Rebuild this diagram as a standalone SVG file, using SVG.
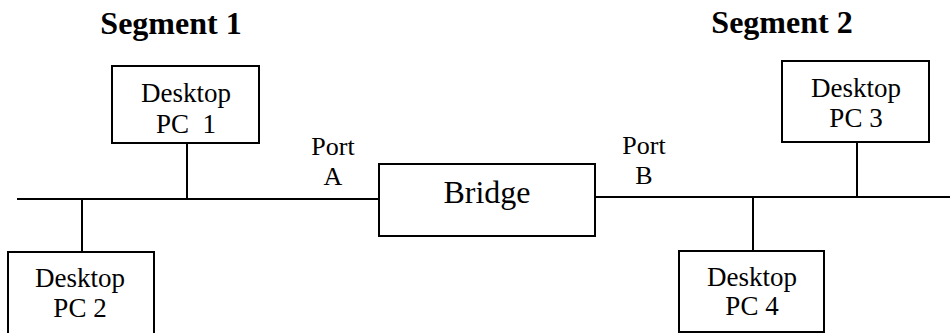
<svg xmlns="http://www.w3.org/2000/svg" width="950" height="333" viewBox="0 0 950 333">
<style>
.box{fill:#fff;stroke:#000;stroke-width:2}
.ln{stroke:#000;stroke-width:2;fill:none}
.t{font-family:"Liberation Serif","Times New Roman",serif;font-size:27px;text-anchor:middle;fill:#000}
.p{font-size:26px}
.h{font-family:"Liberation Serif","Times New Roman",serif;font-size:32px;font-weight:bold;text-anchor:middle;fill:#000}
</style>
<rect width="950" height="333" fill="#fff"/>
<g id="connectors">
<line class="ln" x1="17" y1="199" x2="379" y2="199"/>
<line class="ln" x1="595" y1="197" x2="950" y2="197"/>
<line class="ln" x1="187" y1="143" x2="187" y2="199"/>
<line class="ln" x1="82" y1="199" x2="82" y2="252"/>
<line class="ln" x1="857" y1="142" x2="857" y2="197"/>
<line class="ln" x1="753" y1="197" x2="753" y2="251"/>
</g>
<g id="labels">
<text class="h" x="171" y="34">Segment 1</text>
<text class="h" x="782" y="33">Segment 2</text>
<text class="t p" x="333" y="155">Port</text>
<text class="t p" x="333" y="185">A</text>
<text class="t p" x="644" y="154">Port</text>
<text class="t p" x="644" y="184">B</text>
</g>
<g id="pc1">
<rect class="box" x="112" y="66" width="147" height="77"/>
<text class="t" x="186" y="102">Desktop</text>
<text class="t" x="186" y="133" xml:space="preserve">PC  1</text>
</g>
<g id="pc2">
<rect class="box" x="8" y="252" width="146" height="90"/>
<text class="t" x="80" y="287">Desktop</text>
<text class="t" x="80" y="317">PC 2</text>
</g>
<g id="bridge">
<rect class="box" x="379" y="164" width="216" height="72"/>
<text class="t" x="487" y="203" style="font-size:32px">Bridge</text>
</g>
<g id="pc3">
<rect class="box" x="782" y="61" width="147" height="81"/>
<text class="t" x="856" y="97">Desktop</text>
<text class="t" x="856" y="127">PC 3</text>
</g>
<g id="pc4">
<rect class="box" x="679" y="251" width="145" height="81"/>
<text class="t" x="752" y="286">Desktop</text>
<text class="t" x="752" y="315">PC 4</text>
</g>
</svg>
